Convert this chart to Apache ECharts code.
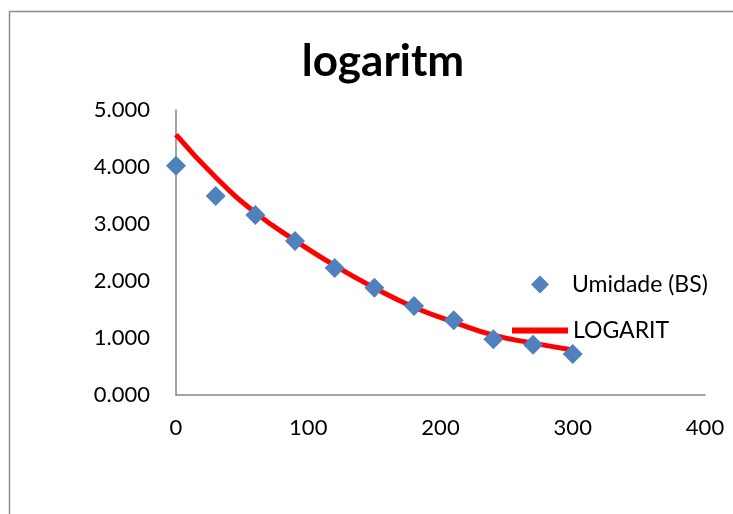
<!DOCTYPE html>
<html><head><meta charset="utf-8">
<script src="https://cdn.jsdelivr.net/npm/echarts@6/dist/echarts.min.js"></script>
<style>html,body{margin:0;padding:0;background:#fff}#c{width:733px;height:514px}</style>
</head><body><div id="c"></div>
<script>
const xValues = [0, 30, 60, 90, 120, 150, 180, 210, 240, 270, 300];
const umidade = [4.02, 3.49, 3.16, 2.70, 2.23, 1.88, 1.56, 1.31, 0.98, 0.88, 0.72];
const logarit = [4.57, 3.82, 3.20, 2.71, 2.27, 1.88, 1.54, 1.28, 1.05, 0.91, 0.79];
const yTicks = [0, 1, 2, 3, 4, 5];
const xTicks = [0, 100, 200, 300, 400];

const font = 'Lato, "Open Sans", sans-serif';
const chart = echarts.init(document.getElementById('c'));
chart.setOption({
  animation: false,
  backgroundColor: '#fff',
  title: {text: 'logaritm', left: 378, top: 35, textAlign: 'center',
    textStyle: {fontFamily: font, fontWeight: 'bold', fontSize: 44, color: '#000'}},
  graphic: [{type: 'rect', shape: {x: 9.5, y: 11.5, width: 800, height: 600},
    style: {fill: 'none', stroke: '#8c8c8c', lineWidth: 1.5}, silent: true, z: -1}],
  grid: {left: 176, right: 28, top: 110, bottom: 119},
  xAxis: {type: 'value', min: 0, max: 400, interval: 100,
    axisLine: {lineStyle: {color: '#868686', width: 1.5}},
    axisTick: {show: false}, splitLine: {show: false},
    axisLabel: {margin: 22, fontFamily: font, fontSize: 22, color: '#000',
      formatter: v => xTicks.includes(v) ? String(v) : ''}},
  yAxis: {type: 'value', min: 0, max: 5, interval: 1,
    axisLine: {show: true, lineStyle: {color: '#868686', width: 1.5}},
    axisTick: {show: false}, splitLine: {show: false},
    axisLabel: {margin: 26, fontFamily: font, fontSize: 22, color: '#000',
      formatter: v => yTicks.includes(v) ? v.toFixed(3) : ''}},
  legend: [
    {data: [{name: 'Umidade (BS)', icon: 'diamond'}], left: 526, top: 268, orient: 'vertical',
      itemWidth: 18, itemHeight: 18,
      textStyle: {fontFamily: font, fontSize: 23, color: '#000', padding: [0, 0, 0, 18]}},
    {data: [{name: 'LOGARIT', icon: 'rect'}], left: 507, top: 314, orient: 'vertical',
      itemWidth: 56, itemHeight: 6,
      textStyle: {fontFamily: font, fontSize: 23, color: '#000', padding: [0, 0, 0, 0]}}
  ],
  series: [
    {name: 'LOGARIT', type: 'line', smooth: true, showSymbol: false,
      data: xValues.map((x, i) => [x, logarit[i]]),
      lineStyle: {color: '#ff0000', width: 5}, itemStyle: {color: '#ff0000'}, z: 2},
    {name: 'Umidade (BS)', type: 'scatter', symbol: 'diamond', symbolSize: 20,
      data: xValues.map((x, i) => [x, umidade[i]]),
      itemStyle: {color: '#4f81bd', opacity: 1}, z: 3}
  ]
});
</script></body></html>
